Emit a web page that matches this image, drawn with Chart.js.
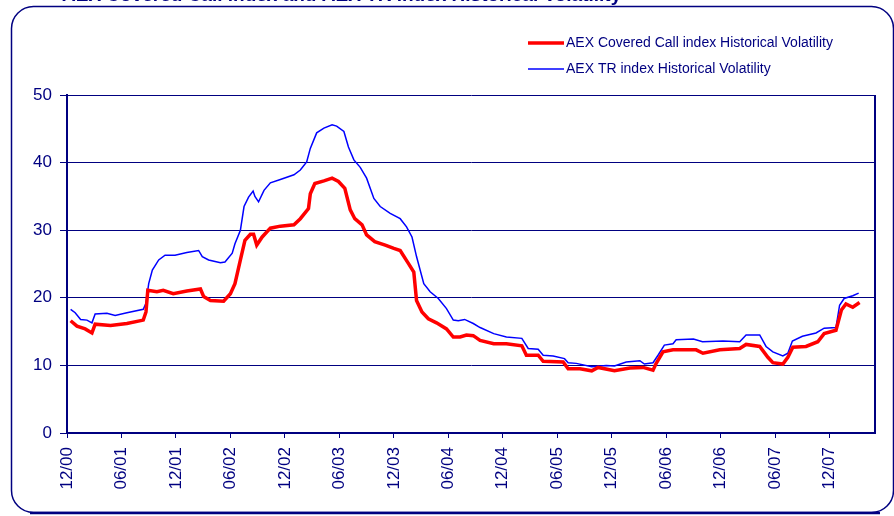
<!DOCTYPE html>
<html>
<head>
<meta charset="utf-8">
<script src="https://cdn.jsdelivr.net/npm/chart.js@4.4.0/dist/chart.umd.min.js"></script>
<style>
	body { margin: 0; background: #fff; }
	canvas { display: block; }
</style>
</head>
<body>
<canvas id="volCanvas" width="894" height="516"></canvas>
<script>
// months counted from 12/00
const tickMonths = [0, 6, 12, 18, 24, 30, 36, 42, 48, 54, 60, 66, 72, 78, 84];
const tickLabels = ["12/00", "06/01", "12/01", "06/02", "12/02", "06/03", "12/03", "06/04", "12/04", "06/05", "12/05", "06/06", "12/06", "06/07", "12/07"];

const trMonths = [0.4, 0.9, 1.5, 2.2, 2.75, 3.1, 4.4, 5.3, 6.6, 8.4, 8.7, 9.0, 9.4, 10.1, 10.8, 11.9, 13.2, 14.5, 14.9, 15.6, 16.9, 17.4, 18.2, 18.5, 19.1, 19.5, 20.0, 20.5, 20.7, 21.1, 21.7, 22.4, 23.5, 25.0, 25.7, 26.4, 26.8, 27.5, 28.3, 29.2, 29.7, 30.5, 31.0, 31.6, 32.3, 33.0, 33.8, 34.5, 35.6, 36.7, 37.4, 38.0, 38.5, 39.3, 40.0, 40.9, 41.8, 42.55, 43.1, 43.8, 44.75, 45.5, 47.0, 48.4, 50.1, 50.8, 51.9, 52.45, 53.55, 54.8, 55.2, 56.1, 57.8, 59.4, 60.3, 61.6, 63.1, 63.6, 64.55, 65.1, 65.8, 66.75, 67.1, 69.0, 70.0, 72.25, 74.1, 74.8, 76.3, 77.0, 77.75, 78.85, 79.4, 79.9, 81.0, 82.5, 83.4, 84.7, 85.1, 85.6, 86.55, 87.2];
const trValues = [18.3, 17.8, 16.8, 16.7, 16.3, 17.6, 17.7, 17.4, 17.8, 18.3, 19.2, 22.1, 24.1, 25.6, 26.3, 26.3, 26.7, 27.0, 26.1, 25.6, 25.2, 25.3, 26.6, 28.0, 30.0, 33.5, 34.9, 35.8, 35.0, 34.2, 35.9, 37.0, 37.5, 38.2, 38.9, 40.1, 42.1, 44.4, 45.1, 45.6, 45.4, 44.6, 42.3, 40.4, 39.3, 37.7, 34.7, 33.5, 32.5, 31.7, 30.5, 29.0, 26.1, 22.1, 20.9, 19.9, 18.4, 16.7, 16.6, 16.8, 16.2, 15.6, 14.7, 14.2, 14.0, 12.5, 12.4, 11.5, 11.4, 11.0, 10.4, 10.3, 9.8, 10.0, 9.9, 10.5, 10.7, 10.2, 10.4, 11.5, 13.0, 13.2, 13.8, 13.9, 13.5, 13.6, 13.5, 14.5, 14.5, 12.8, 12.0, 11.4, 11.8, 13.6, 14.3, 14.8, 15.5, 15.6, 18.9, 19.9, 20.3, 20.7];

const ccMonths = [0.4, 1.1, 2.0, 2.75, 3.1, 4.8, 6.6, 8.4, 8.7, 8.9, 9.9, 10.6, 11.7, 13.2, 14.7, 15.05, 15.8, 17.25, 18.0, 18.5, 19.1, 19.6, 20.2, 20.55, 20.9, 21.5, 22.4, 23.5, 25.0, 25.7, 26.6, 26.8, 27.3, 28.3, 29.2, 29.9, 30.6, 31.2, 31.7, 32.5, 33.0, 33.9, 35.05, 36.0, 36.7, 37.6, 38.2, 38.5, 39.1, 39.8, 40.7, 41.8, 42.55, 43.3, 44.0, 44.75, 45.5, 47.0, 48.4, 50.1, 50.6, 51.9, 52.45, 54.65, 55.2, 56.5, 57.8, 58.5, 60.3, 62.0, 63.45, 64.55, 64.9, 65.65, 66.75, 69.3, 70.05, 71.9, 74.1, 74.8, 76.3, 77.2, 77.75, 78.85, 79.4, 79.95, 81.4, 82.7, 83.4, 84.7, 85.3, 85.8, 86.55, 87.3];
const ccValues = [16.6, 15.8, 15.4, 14.8, 16.1, 15.9, 16.2, 16.7, 17.9, 21.1, 20.9, 21.1, 20.6, 21.0, 21.3, 20.2, 19.6, 19.5, 20.6, 22.1, 25.6, 28.5, 29.4, 29.4, 27.8, 29.0, 30.3, 30.6, 30.8, 31.7, 33.2, 35.4, 36.9, 37.3, 37.7, 37.2, 36.2, 33.0, 31.7, 30.8, 29.3, 28.3, 27.8, 27.3, 27.0, 25.1, 23.8, 19.6, 17.9, 16.9, 16.3, 15.4, 14.2, 14.2, 14.5, 14.4, 13.7, 13.2, 13.2, 12.9, 11.5, 11.5, 10.6, 10.5, 9.5, 9.5, 9.2, 9.7, 9.2, 9.6, 9.7, 9.3, 10.3, 12.0, 12.3, 12.3, 11.8, 12.3, 12.5, 13.1, 12.8, 11.2, 10.4, 10.2, 11.2, 12.7, 12.8, 13.5, 14.7, 15.2, 18.2, 19.1, 18.6, 19.3];

const navy = "#000080";
const fontFam = "Arial, 'Liberation Sans', sans-serif";

const ccLabel = "AEX Covered Call index Historical Volatility";
const trLabel = "AEX TR index Historical Volatility";

function toPoints(xs, ys) {
	return xs.map((m, i) => ({ x: m, y: ys[i] }));
}

const framePlugin = {
	id: "frame",
	beforeDraw(chart) {
		const c = chart.ctx;
		c.save();
		c.fillStyle = "#fff";
		c.fillRect(0, 0, chart.width, chart.height);
		// title, mostly cut off at the top
		c.fillStyle = navy;
		c.font = "bold 19px " + fontFam;
		c.textBaseline = "alphabetic";
		c.fillText("AEX Covered Call index and AEX TR index Historical Volatility", 62, 1);
		// rounded frame
		c.strokeStyle = navy;
		c.lineWidth = 1.5;
		c.beginPath();
		c.roundRect(11.5, 6.5, 882, 506, 22);
		c.stroke();
		c.lineWidth = 2.5;
		c.beginPath();
		c.moveTo(30, 513);
		c.lineTo(880, 513);
		c.stroke();
		c.restore();
	},
	afterDraw(chart) {
		const c = chart.ctx;
		const a = chart.chartArea;
		c.save();
		c.strokeStyle = navy;
		c.lineWidth = 2;
		c.beginPath();
		c.moveTo(a.right, a.top);
		c.lineTo(a.right, a.bottom);
		c.stroke();
		// legend
		const items = [
			{ label: ccLabel, color: "#ff0000", width: 3.5, y: 43 },
			{ label: trLabel, color: "#0000ff", width: 1.5, y: 69 },
		];
		c.font = "14px " + fontFam;
		c.textBaseline = "middle";
		items.forEach((it) => {
			c.strokeStyle = it.color;
			c.lineWidth = it.width;
			c.beginPath();
			c.moveTo(528, it.y);
			c.lineTo(564, it.y);
			c.stroke();
			c.fillStyle = navy;
			c.fillText(it.label, 566, it.y);
		});
		c.restore();
	},
};

const ctx = document.getElementById("volCanvas").getContext("2d");
const volChart = new Chart(ctx, {
	type: "line",
	data: {
		datasets: [
			{
				label: ccLabel,
				data: toPoints(ccMonths, ccValues),
				borderColor: "#ff0000",
				borderWidth: 3.5,
				pointRadius: 0,
				tension: 0,
			},
			{
				label: trLabel,
				data: toPoints(trMonths, trValues),
				borderColor: "#0000ff",
				borderWidth: 1.5,
				pointRadius: 0,
				tension: 0,
			},
		],
	},
	options: {
		responsive: false,
		animation: false,
		events: [],
		layout: {
			padding: { top: 95, right: 19, left: 0, bottom: 0 },
		},
		plugins: {
			legend: { display: false },
			tooltip: { enabled: false },
		},
		scales: {
			x: {
				type: "linear",
				min: 0,
				max: 89,
				afterBuildTicks: function (scale) {
					scale.ticks = tickMonths.map((v) => ({ value: v }));
				},
				afterFit: function (scale) {
					scale.height = 83;
				},
				border: { color: navy, width: 2 },
				grid: {
					drawOnChartArea: false,
					color: navy,
					tickLength: 5,
				},
				ticks: {
					autoSkip: false,
					maxRotation: 90,
					minRotation: 90,
					padding: 9,
					color: navy,
					font: { family: fontFam, size: 17 },
					callback: function (value) {
						const i = tickMonths.indexOf(value);
						return i >= 0 ? tickLabels[i] : "";
					},
				},
			},
			y: {
				min: 0,
				max: 50,
				afterFit: function (scale) {
					scale.width = 67;
				},
				border: { color: navy, width: 2 },
				grid: {
					color: navy,
					lineWidth: 1,
					tickLength: 7,
				},
				ticks: {
					stepSize: 10,
					padding: 8,
					color: navy,
					font: { family: fontFam, size: 17 },
				},
			},
		},
	},
	plugins: [framePlugin],
});
</script>
</body>
</html>
